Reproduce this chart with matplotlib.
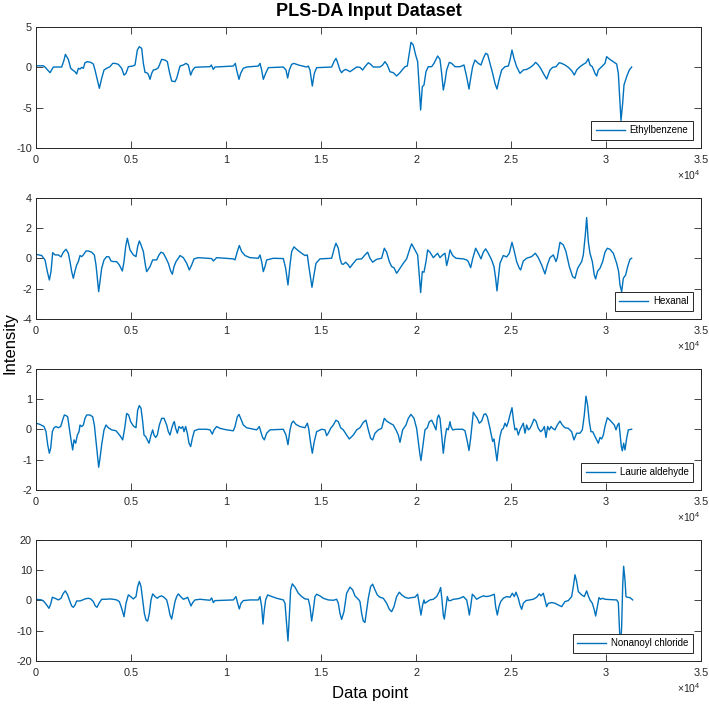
import matplotlib
matplotlib.use("Agg")
import matplotlib.pyplot as plt
from matplotlib.ticker import FixedLocator, FixedFormatter

plt.rcParams['font.family'] = ['Liberation Sans', 'DejaVu Sans']
plt.rcParams['axes.unicode_minus'] = False
plt.rcParams['mathtext.fontset'] = 'custom'
plt.rcParams['mathtext.rm'] = 'Liberation Sans'

# ---- data ----
eb_x = [0, 386, 474, 737, 912, 1351, 1473, 1544, 1701, 1824, 1929, 2052, 2140, 2228, 2315, 2403, 2491,
        2578, 2701, 2877, 3017, 3105, 3228, 3333, 3456, 3579, 3719, 3894, 4035, 4158, 4333, 4508, 4631,
        4736, 4859, 5087, 5210, 5333, 5438, 5561, 5649, 5736, 5824, 5912, 5999, 6087, 6175, 6315, 6438,
        6526, 6613, 6789, 6912, 7017, 7139, 7314, 7402, 7578, 7753, 7893, 8016, 8139, 8244, 8367, 8630,
        9156, 9226, 9332, 9419, 10384, 10489, 10559, 10682, 10770, 10910, 11085, 11699, 11787, 11875,
        11962, 12085, 12225, 13015, 13155, 13243, 13330, 13453, 13576, 13804, 14242, 14330, 14418, 14541,
        14646, 14769, 15558, 15681, 15786, 15856, 15996, 16084, 16172, 16295, 16435, 16523, 16698, 16874,
        17049, 17189, 17312, 17488, 17610, 17751, 18102, 18242, 18365, 18488, 18628, 18803, 18979, 19154,
        19295, 19418, 19540, 19646, 19734, 19856, 19979, 20084, 20155, 20242, 20330, 20418, 20523, 20646,
        20821, 20944, 21137, 21260, 21348, 21435, 21523, 21611, 21751, 21874, 22049, 22312, 22523, 22663,
        22786, 22874, 22979, 23102, 23277, 23417, 23540, 23663, 23768, 23891, 24031, 24154, 24259, 24365,
        24505, 24680, 24856, 24944, 25049, 25154, 25294, 25470, 25645, 25821, 25996, 26172, 26295, 26435,
        26558, 26698, 26874, 27049, 27189, 27365, 27540, 27663, 27838, 28014, 28189, 28330, 28453, 28628,
        28803, 28944, 29067, 29154, 29277, 29418, 29505, 29593, 29768, 29944, 30031, 30172, 30382, 30558,
        30646, 30733, 30786, 30874, 30944, 31084, 31224, 31347]
eb_y = [0.15, 0.15, 0.0, -0.70, 0.0, 0.0, 0.85, 1.56, 0.95, -0.16, -0.37, -0.58, -0.86, -0.16, -0.25, -0.04,
        -0.16, 0.53, 0.66, 0.58, 0.37, -0.37, -1.6, -2.63, -1.4, -0.37, -0.16, 0.04, 0.45, 0.45, 0.33,
        -0.16, -1.0, -0.78, 0.04, 0.12, 0.25, 2.1, 2.51, 2.3, 0.45, -0.66, -0.70, -0.91, -1.52, -0.78,
        -0.37, -0.29, -0.08, 0.45, 0.95, 0.86, 0.66, -0.58, -1.73, -1.81, -1.4, 0.12, 0.25, 0.45, 0.25,
        -1.0, -0.37, -0.04, 0.0, 0.04, 0.25, -0.29, 0.0, 0.12, 0.45, -0.37, -1.52, -0.78, -0.16, 0.0,
        0.12, 0.45, -0.37, -1.52, -0.78, -0.08, 0.0, -0.37, -1.36, -0.37, 0.33, 0.45, 0.25, 0.0, 0.12,
        -0.37, -2.35, -0.78, -0.08, 0.0, 0.66, 1.07, 0.66, -0.37, -0.70, -0.45, -0.29, -0.45, -0.58,
        -0.29, 0.0, -0.04, -0.37, 0.04, 0.53, 0.33, 0.0, 0.0, 0.25, 0.66, 0.25, -0.58, -0.70, -1.11,
        -0.70, -0.29, 0.04, 0.12, 1.69, 3.05, 2.72, 1.48, 0.66, -2.02, -5.31, -2.43, -2.22, -0.58, 0.04,
        0.04, 0.45, 1.36, 0.95, -0.78, -2.84, -1.81, -0.37, 0.58, 0.45, 0.04, 0.04, 0.25, -1.19, -2.72,
        -1.4, 0.04, 0.86, 0.45, 0.25, 1.07, 1.69, 1.56, 0.45, -0.78, -2.02, -2.72, -1.61, -0.37, 0.04,
        0.12, 0.86, 2.1, 1.07, 0.04, -0.78, -0.37, -0.29, -0.08, 0.25, 0.58, 0.25, -0.16, -0.78, -1.48,
        -0.37, -0.04, 0.04, 0.53, 0.45, 0.25, -0.04, -0.45, -0.99, -0.37, 0.04, 0.33, 0.53, 1.03, 0.25,
        0.04, -0.78, -1.11, -0.37, 0.04, 0.45, 1.28, 0.99, 0.66, 0.37, -0.78, -4.49, -6.6, -4.49, -2.22,
        -1.19, -0.37, 0.0]

hex_x = [0, 298, 474, 596, 702, 789, 877, 1000, 1175, 1316, 1438, 1579, 1701, 1789, 1877, 1964, 2052,
         2140, 2228, 2315, 2403, 2491, 2631, 2754, 2929, 3070, 3157, 3245, 3298, 3368, 3456, 3579, 3719,
         3842, 3947, 4070, 4245, 4385, 4543, 4631, 4719, 4806, 4947, 5122, 5262, 5350, 5438, 5526, 5649,
         5754, 5824, 5999, 6140, 6350, 6473, 6578, 6701, 6842, 6964, 7087, 7175, 7262, 7367, 7490, 7578,
         7753, 7929, 8069, 8192, 8314, 8542, 8981, 9244, 9332, 9419, 9507, 10384, 10472, 10594, 10700,
         10822, 10998, 11261, 11699, 11787, 11875, 11962, 12050, 12138, 12489, 13015, 13138, 13260, 13366,
         13453, 13576, 13752, 13980, 14155, 14278, 14348, 14453, 14523, 14628, 14734, 14944, 15558, 15698,
         15786, 15909, 15996, 16084, 16172, 16295, 16435, 16523, 16698, 16874, 17137, 17312, 17452, 17575,
         17716, 17926, 18189, 18330, 18453, 18593, 18716, 18839, 18979, 19154, 19330, 19505, 19681, 19768,
         19944, 20084, 20154, 20242, 20330, 20418, 20523, 20611, 20734, 20909, 21049, 21137, 21260, 21400,
         21523, 21611, 21698, 21786, 21926, 22102, 22488, 22663, 22751, 22874, 22979, 23137, 23277, 23417,
         23540, 23663, 23803, 23979, 24102, 24189, 24259, 24330, 24417, 24593, 24768, 24909, 25049, 25154,
         25294, 25435, 25505, 25645, 25821, 26084, 26277, 26435, 26611, 26786, 26909, 27049, 27224, 27365,
         27435, 27575, 27751, 27891, 28067, 28242, 28365, 28505, 28716, 28803, 28909, 28979, 29067, 29154,
         29277, 29382, 29452, 29558, 29681, 29821, 29944, 30067, 30207, 30382, 30558, 30663, 30733, 30821,
         30909, 31031, 31137, 31259, 31347]
hex_y = [0.26, 0.18, -0.11, -0.88, -1.43, -0.88, 0.37, 0.22, 0.22, 0.09, 0.40, 0.59, 0.33, -0.22, -0.88,
         -1.32, -0.84, -0.44, -0.22, 0.18, 0.11, 0.22, 0.48, 0.48, 0.40, 0.22, -0.44, -1.54, -2.20, -1.54,
         -0.66, -0.11, 0.11, 0.09, -0.18, -0.22, -0.22, -0.44, -0.84, -0.22, 0.77, 1.32, 0.55, 0.22, 0.11,
         0.77, 1.14, 0.88, 0.44, -0.44, -0.88, -0.55, -0.11, -0.11, 0.22, 0.40, 0.33, 0.0, -0.33, -0.84,
         -1.05, -0.55, -0.22, 0.0, 0.18, 0.04, -0.33, -0.77, -0.44, -0.04, 0.04, 0.0, -0.02, -0.18, -0.07,
         0.04, -0.04, -0.11, 0.44, 0.84, 0.44, 0.18, 0.04, 0.0, 0.22, -0.22, -0.88, -0.55, -0.11, 0.0,
         -0.02, -0.66, -1.76, -0.44, 0.44, 0.75, 0.55, 0.33, 0.18, 0.22, -0.44, -1.32, -1.91, -1.10, -0.33,
         -0.04, 0.0, 0.66, 0.99, 0.66, 0.0, -0.37, -0.40, -0.26, -0.44, -0.62, -0.33, -0.07, -0.04, 0.22,
         0.40, 0.0, -0.26, -0.07, 0.0, 0.66, 0.40, -0.22, -0.55, -0.62, -0.99, -0.66, -0.33, -0.04, 0.66,
         0.95, 0.55, 0.22, -0.88, -2.26, -0.88, -0.92, -0.22, 0.55, 0.40, 0.04, 0.22, 0.33, 0.04, 0.22,
         0.33, -0.48, -0.04, 0.55, 0.18, 0.0, -0.04, -0.11, -0.22, -0.62, -0.04, 0.66, 0.33, -0.04, 0.40,
         0.62, 0.33, -0.11, -0.55, -1.32, -2.15, -1.32, -0.33, 0.18, 0.09, 0.33, 1.05, 0.55, -0.22, -0.66,
         -0.77, -0.18, 0.0, 0.11, 0.33, 0.04, -0.44, -1.03, -0.44, 0.04, 0.22, -0.22, 0.04, 1.05, 0.88,
         0.44, -0.55, -1.21, -1.32, -0.66, -0.22, 0.22, 1.54, 2.68, 1.10, 0.33, -0.22, -1.10, -1.36, -0.84,
         -0.66, -0.22, 0.40, 0.66, 0.59, 0.33, -0.33, -0.88, -1.76, -2.2, -1.32, -1.10, -0.55, -0.07, 0.0]

la_x = [0, 210, 421, 526, 614, 702, 772, 859, 947, 1052, 1175, 1298, 1403, 1491, 1579, 1666, 1754, 1842,
        1929, 2000, 2087, 2175, 2263, 2315, 2403, 2491, 2578, 2666, 2842, 2982, 3070, 3157, 3245, 3298,
        3368, 3456, 3579, 3684, 3807, 3982, 4210, 4420, 4561, 4666, 4771, 4876, 4982, 5122, 5262, 5350,
        5438, 5526, 5614, 5684, 5771, 5859, 5947, 6052, 6140, 6210, 6298, 6385, 6491, 6613, 6736, 6876,
        6964, 7052, 7139, 7227, 7279, 7349, 7437, 7525, 7630, 7718, 7788, 7876, 7963, 8051, 8139, 8227,
        8332, 8542, 8981, 9156, 9279, 9367, 9507, 9682, 10033, 10384, 10472, 10594, 10682, 10770, 10910,
        11085, 11612, 11752, 11840, 11927, 12015, 12138, 12313, 13015, 13155, 13260, 13366, 13453, 13541,
        13681, 13892, 14155, 14278, 14348, 14453, 14541, 14646, 14769, 15032, 15207, 15295, 15383, 15505,
        15646, 15786, 15909, 16032, 16172, 16347, 16488, 16698, 16874, 17049, 17224, 17365, 17488, 17610,
        17716, 17839, 18014, 18189, 18330, 18453, 18628, 18803, 18944, 19067, 19154, 19295, 19470, 19593,
        19734, 19891, 20031, 20119, 20207, 20259, 20347, 20418, 20470, 20593, 20698, 20821, 20944, 21049,
        21119, 21190, 21260, 21348, 21435, 21523, 21611, 21698, 21786, 21839, 21926, 22102, 22453, 22575,
        22698, 22786, 22874, 22962, 23014, 23102, 23225, 23330, 23453, 23575, 23663, 23751, 23891, 24031,
        24102, 24189, 24259, 24330, 24417, 24505, 24593, 24680, 24768, 24856, 24944, 25049, 25137, 25207,
        25294, 25382, 25470, 25558, 25645, 25733, 25821, 25909, 25996, 26084, 26207, 26312, 26435, 26558,
        26663, 26751, 26839, 26926, 27014, 27102, 27189, 27312, 27435, 27575, 27698, 27838, 28014, 28189,
        28312, 28453, 28628, 28751, 28856, 28944, 29031, 29119, 29207, 29295, 29418, 29505, 29593, 29681,
        29768, 29856, 29944, 30067, 30207, 30347, 30435, 30523, 30610, 30681, 30733, 30803, 30856, 30926,
        30996, 31084, 31172, 31347]
la_y = [0.20, 0.16, 0.09, -0.08, -0.51, -0.79, -0.62, -0.08, 0.05, 0.09, 0.05, 0.09, 0.31, 0.47, 0.45,
        0.41, 0.03, -0.35, -0.68, -0.35, -0.46, -0.19, -0.08, 0.14, 0.09, 0.14, 0.36, 0.47, 0.47, 0.41,
        0.14, -0.40, -0.95, -1.25, -0.95, -0.51, -0.02, 0.14, 0.05, -0.02, -0.05, -0.21, -0.35, 0.03, 0.52,
        0.47, 0.25, 0.11, 0.05, 0.63, 0.78, 0.69, 0.25, -0.19, -0.24, -0.35, -0.46, -0.19, -0.02, -0.19,
        -0.27, -0.19, 0.14, 0.36, 0.36, 0.14, -0.08, -0.19, 0.03, 0.20, 0.25, 0.03, -0.13, 0.09, 0.03,
        0.09, -0.08, 0.09, -0.13, -0.46, -0.57, -0.30, -0.05, 0.0, 0.0, -0.02, -0.16, -0.02, 0.09, 0.03,
        -0.02, -0.05, 0.09, 0.41, 0.49, 0.36, 0.14, 0.05, -0.02, 0.09, -0.10, -0.27, -0.35, -0.13, -0.02,
        0.0, -0.19, -0.51, -0.02, 0.20, 0.27, 0.16, 0.09, 0.05, 0.20, 0.03, -0.46, -0.79, -0.40, -0.08,
        0.0, -0.02, -0.21, -0.13, 0.03, 0.14, 0.30, 0.25, 0.05, -0.02, -0.19, -0.32, -0.19, -0.02, 0.05,
        0.23, 0.30, -0.02, -0.30, -0.35, -0.13, -0.02, 0.03, 0.36, 0.27, 0.20, 0.14, -0.02, -0.19, -0.43,
        -0.02, 0.14, 0.36, 0.49, 0.36, 0.03, -0.40, -0.84, -1.03, -0.62, -0.30, -0.02, 0.05, 0.25, 0.30,
        0.14, -0.02, 0.36, 0.47, 0.36, -0.19, -0.79, -0.30, 0.03, -0.02, 0.25, 0.09, -0.02, 0.0, 0.0,
        -0.05, -0.40, -0.70, -0.30, 0.25, 0.56, 0.47, 0.36, 0.20, 0.27, 0.49, 0.51, 0.41, 0.03, -0.40,
        -0.32, -0.73, -1.04, -0.62, -0.24, -0.02, 0.03, 0.20, 0.09, 0.25, 0.47, 0.71, 0.25, -0.02, 0.03,
        -0.19, -0.02, 0.09, 0.20, -0.13, 0.14, -0.02, 0.03, 0.14, 0.33, 0.27, 0.03, -0.08, -0.02, 0.09,
        -0.27, 0.09, -0.02, 0.09, 0.03, -0.02, 0.14, 0.27, 0.14, 0.05, 0.03, -0.08, -0.35, -0.13, -0.13,
        -0.02, 0.47, 1.09, 0.79, 0.25, -0.08, -0.08, -0.24, -0.35, -0.46, -0.27, -0.32, -0.19, 0.09, 0.38,
        0.30, 0.20, 0.14, -0.02, 0.14, 0.20, -0.13, -0.57, -0.71, -0.46, -0.68, -0.30, -0.02, 0.0]

nc_x = [0, 298, 421, 561, 684, 772, 859, 1000, 1175, 1316, 1438, 1544, 1666, 1754, 1877, 1964, 2052, 2140,
        2315, 2456, 2578, 2754, 2877, 3017, 3122, 3210, 3315, 3456, 3684, 3894, 4070, 4245, 4385, 4508,
        4631, 4736, 4859, 4982, 5122, 5262, 5350, 5438, 5526, 5614, 5701, 5789, 5876, 5964, 6052, 6140,
        6263, 6385, 6491, 6613, 6736, 6876, 6964, 7052, 7139, 7227, 7314, 7402, 7490, 7612, 7753, 7893,
        7981, 8069, 8156, 8244, 8367, 8630, 9156, 9244, 9332, 9419, 10384, 10524, 10612, 10700, 10787,
        10910, 11261, 11699, 11787, 11875, 11945, 12015, 12085, 12190, 12313, 12664, 13015, 13103, 13190,
        13260, 13330, 13400, 13488, 13629, 13804, 13980, 14155, 14330, 14418, 14506, 14593, 14681, 14769,
        14944, 15119, 15383, 15646, 15821, 15909, 15996, 16084, 16207, 16347, 16523, 16663, 16786, 16996,
        17049, 17137, 17224, 17312, 17400, 17488, 17610, 17716, 17839, 17961, 18102, 18277, 18453, 18593,
        18716, 18839, 18979, 19119, 19242, 19418, 19593, 19768, 19944, 20084, 20172, 20259, 20347, 20418,
        20470, 20593, 20734, 20909, 21084, 21225, 21295, 21365, 21435, 21488, 21575, 21646, 21716, 21821,
        21961, 22137, 22312, 22488, 22663, 22751, 22804, 22874, 22962, 23049, 23189, 23365, 23540, 23716,
        23891, 24031, 24119, 24189, 24277, 24365, 24453, 24593, 24768, 24944, 25067, 25172, 25259, 25382,
        25470, 25558, 25645, 25786, 25996, 26172, 26347, 26488, 26575, 26698, 26786, 26874, 26961, 27137,
        27312, 27488, 27663, 27838, 28014, 28189, 28277, 28365, 28453, 28540, 28716, 28856, 28979, 29067,
        29154, 29277, 29382, 29452, 29540, 29628, 29716, 29821, 29944, 30207, 30558, 30646, 30698, 30751,
        30821, 30874, 30926, 30996, 31049, 31119, 31259, 31400]
nc_y = [0.33, 0.11, -0.44, -1.55, -2.65, -1.22, 0.99, 0.66, 0.11, 0.66, 2.32, 3.09, 1.77, 0.11, -1.88,
        -2.32, -1.55, -0.22, -0.22, 0.11, 0.44, 0.66, 0.44, -0.44, -1.88, -2.32, -0.99, 0.33, 0.33, 0.44,
        0.33, 0.11, -0.44, -2.65, -5.41, -0.99, 1.77, 1.22, 0.44, 1.22, 4.53, 6.19, 4.53, 0.11, -4.31,
        -6.52, -6.85, -4.31, 0.11, 2.10, 1.22, 0.66, 1.22, 1.44, 0.99, 0.11, -2.10, -4.86, -6.19, -3.20,
        -0.44, 1.22, 2.10, 1.22, 0.33, 0.66, 0.99, -0.44, -1.88, -0.77, 0.11, 0.33, 0.0, 0.77, -0.77, -0.11,
        0.11, 1.22, -0.99, -2.87, -0.99, -0.11, 0.11, 0.11, 1.22, -2.10, -7.85, -3.20, 0.11, 1.77, 1.44,
        0.66, 0.11, -0.99, -7.62, -13.4, -5.41, 3.43, 5.41, 4.31, 2.32, 1.22, 0.44, 0.33, -2.10, -6.85,
        -3.20, 1.22, 1.99, 1.44, 0.66, 0.11, 0.0, 0.33, -0.99, -4.31, -6.30, -3.76, 2.32, 4.31, 3.43, 1.44,
        0.11, -0.44, -4.31, -6.85, -7.29, -3.20, 0.66, 4.53, 5.30, 3.43, 1.77, 0.99, 0.66, -0.99, -2.98,
        -3.76, -2.10, 1.22, 2.65, 1.77, 0.99, 0.66, 0.88, 0.99, 1.99, -1.55, -4.86, -1.55, 0.11, -0.99,
        -0.44, 0.11, 0.33, 1.22, 2.87, 4.20, 0.11, -4.86, -6.19, -2.10, 1.22, -0.11, -0.11, 0.33, 0.44,
        0.66, 1.22, 0.11, -2.65, -4.86, -2.10, 1.99, 1.44, 0.33, 0.99, 1.44, 1.22, 1.44, 1.77, 1.99, -2.10,
        -4.86, -2.10, -0.44, 0.66, 1.22, 0.99, 2.32, 1.22, 2.65, 0.66, -1.55, -2.98, -0.99, -0.11, 0.11,
        0.33, 0.99, 2.10, 1.44, 2.32, 0.11, -2.10, -0.99, -0.77, -0.99, -1.55, -2.10, -0.44, -0.11, 1.22,
        4.53, 8.40, 6.19, 2.87, 1.77, 1.22, 3.09, 1.44, 0.11, -0.99, -3.20, -5.19, -2.10, 0.88, 0.33, 0.66,
        0.33, 0.22, 0.11, -0.77, -8.7, -16.0, -8.7, 4.53, 11.2, 6.74, 1.22, 0.99, 0.88, 0.11]

series_names = ['Ethylbenzene', 'Hexanal', 'Laurie aldehyde', 'Nonanoyl chloride']
y_limits = [(-10, 5), (-4, 4), (-2, 2), (-20, 20)]
y_ticks = [[-10, -5, 0, 5], [-4, -2, 0, 2, 4], [-2, -1, 0, 1, 2], [-20, -10, 0, 10, 20]]
x_ticks = [0, 5000, 10000, 15000, 20000, 25000, 30000, 35000]
x_tick_labels = ['0', '0.5', '1', '1.5', '2', '2.5', '3', '3.5']

series = [(eb_x, eb_y), (hex_x, hex_y), (la_x, la_y), (nc_x, nc_y)]

# ---- figure ----
line_color = '#0072BD'
axis_color = '#262626'
fig = plt.figure(figsize=(7.09, 7.04), dpi=100)
bottoms = [0.7898, 0.5469, 0.3040, 0.0611]

for i, ((xs, ys), name) in enumerate(zip(series, series_names)):
    ax = fig.add_axes([0.0508, bottoms[i], 0.938, 0.1725])
    ax.plot(xs, ys, color=line_color, lw=1.0, label=name)
    ax.set_xlim(0, 35000)
    ax.set_ylim(*y_limits[i])
    ax.xaxis.set_major_locator(FixedLocator(x_ticks))
    ax.xaxis.set_major_formatter(FixedFormatter(x_tick_labels))
    ax.set_yticks(y_ticks[i])
    ax.set_yticklabels([str(t) for t in y_ticks[i]])
    ax.tick_params(direction='in', top=True, right=True, length=4.8, width=0.6,
                   colors=axis_color, labelsize=7.8)
    ax.tick_params(axis='x', pad=5)
    ax.tick_params(axis='y', pad=3)
    for sp in ax.spines.values():
        sp.set_color(axis_color)
        sp.set_linewidth(0.7)
    ax.text(1.0, -0.225, r'$\mathregular{\times10^{4}}$', transform=ax.transAxes,
            ha='right', va='center', fontsize=7.5, color=axis_color)
    leg = ax.legend(loc='lower right', fontsize=7, handlelength=3.0, handletextpad=0.5,
                    borderaxespad=0.85, borderpad=0.45, fancybox=False, framealpha=1)
    leg.get_frame().set_edgecolor(axis_color)
    leg.get_frame().set_linewidth(0.7)

fig.text(0.5204, 0.984, 'PLS-DA Input Dataset', ha='center', va='center',
         fontsize=13, fontweight='bold')
fig.text(0.014, 0.513, 'Intensity', rotation=90, ha='center', va='center', fontsize=12)
fig.text(0.522, 0.0156, 'Data point', ha='center', va='center', fontsize=12)

fig.savefig('out.png', dpi=100)
